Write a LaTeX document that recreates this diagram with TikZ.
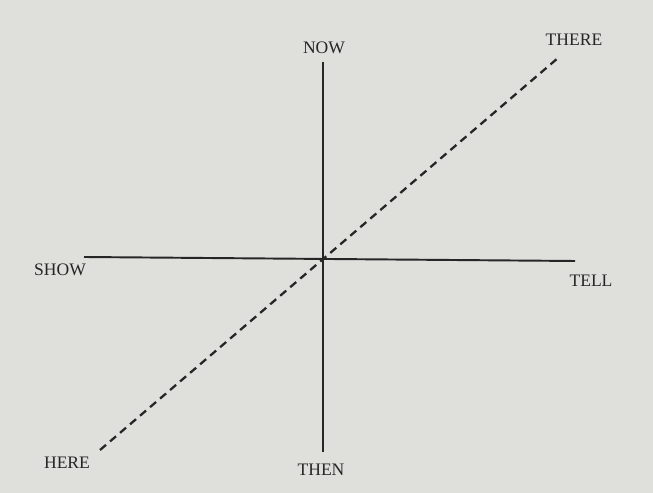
\documentclass[tikz,border=0pt]{standalone}
\usepackage{fontspec}
\setmainfont{Liberation Serif}
\usepackage{xcolor}
\usetikzlibrary{positioning,calc}
\definecolor{paper}{RGB}{223,223,220}
\definecolor{ink}{RGB}{38,38,38}

\begin{document}
\begin{tikzpicture}[
  x=0.02cm,y=0.02cm,
  axis/.style={draw=ink,line width=1.1pt},
  diag/.style={draw=ink,line width=1.3pt,dash pattern=on 4.5pt off 3pt},
  word/.style={text=ink,inner sep=0pt,font=\fontsize{10}{12}\selectfont}
]
  \fill[paper] (0,0) rectangle (653,493);
  \useasboundingbox (0,0) rectangle (653,493);
  % axes
  \coordinate (top) at (323,431);
  \coordinate (bottom) at (323,41);
  \coordinate (west) at (84,236);
  \coordinate (east) at (575,232);
  \coordinate (herecorner) at (100,43);
  \coordinate (therecorner) at (558,435);
  \draw[axis] (west) -- (east);
  \draw[axis] (top) -- (bottom);
  \draw[diag] (herecorner) -- (therecorner);
  % labels
  \node[word] (now) at (324,445) {NOW};
  \node[word] (then) at (321,23) {THEN};
  \node[word] (show) at (60,223) {SHOW};
  \node[word] (tell) at (591,212) {TELL};
  \node[word] (here) at (67,30) {HERE};
  \node[word] (there) at (574,453) {THERE};
\end{tikzpicture}
\end{document}
